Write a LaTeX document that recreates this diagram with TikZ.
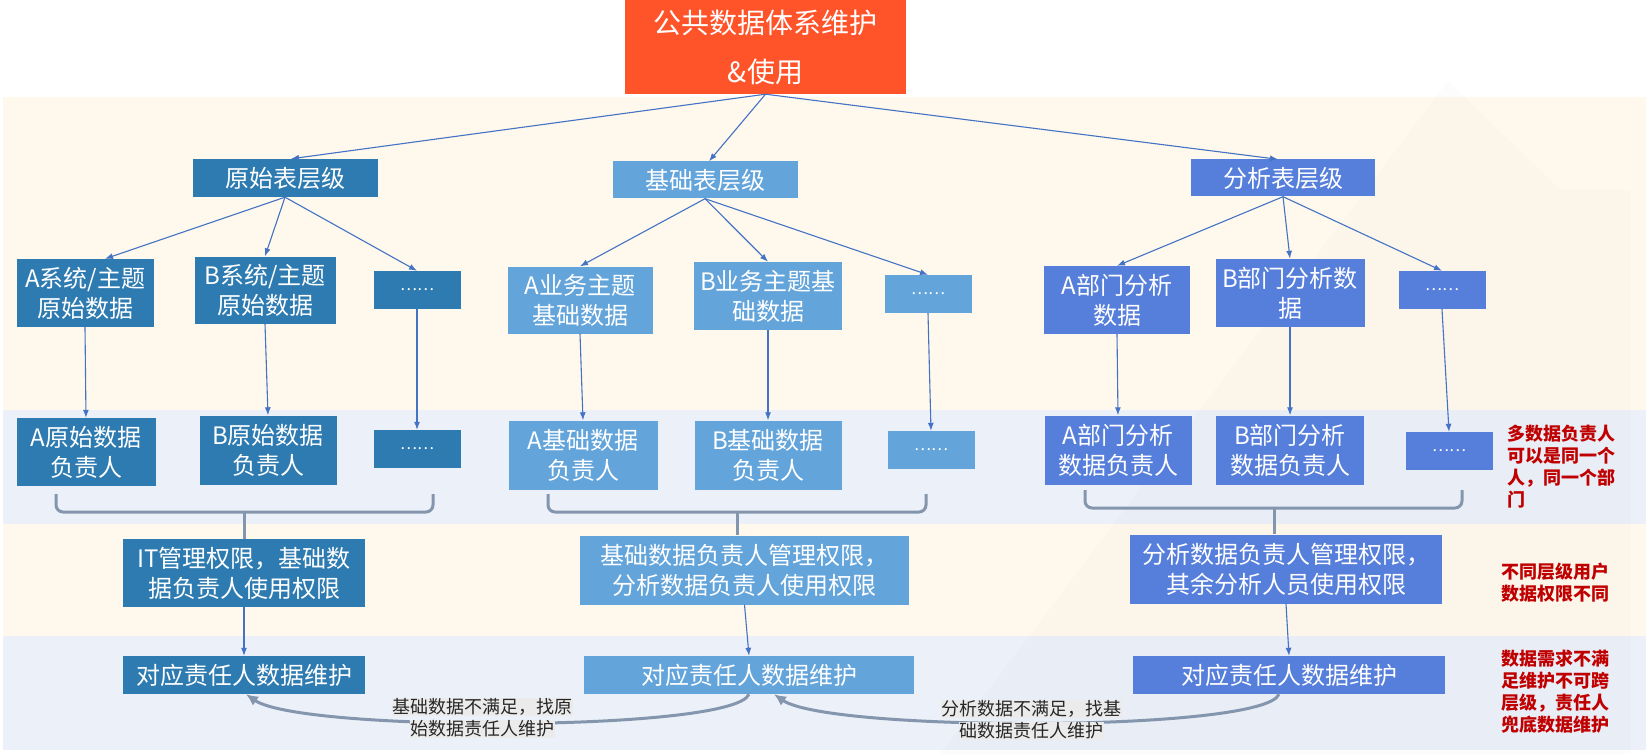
\documentclass[tikz,border=0pt]{standalone}
\usepackage{fontspec}
\setmainfont{Noto Sans CJK SC}
\usetikzlibrary{arrows.meta}

\definecolor{topred}{HTML}{FF5329}
\definecolor{rawblue}{HTML}{2E7BB1}
\definecolor{baseblue}{HTML}{63A4DB}
\definecolor{anablue}{HTML}{567EDB}
\definecolor{cream}{HTML}{FEF9EC}
\definecolor{paleblue}{HTML}{ECF0F8}
\definecolor{linkblue}{HTML}{4472C4}
\definecolor{bracegray}{HTML}{8496AE}
\definecolor{notered}{HTML}{C00000}

\begin{document}
\begin{tikzpicture}[x=1pt,y=-1pt,
  box/.style={fill=#1, text=white, inner sep=0pt, align=center, font=\fontsize{24}{30}\selectfont},
  dots/.style={box=#1, minimum width=87pt, minimum height=38pt, font=\fontsize{16}{20}\selectfont},
  link/.style={linkblue, line width=1.1pt, -{Latex[length=8pt,width=6pt]}},
  brace/.style={bracegray, line width=3pt, rounded corners=7pt},
  back/.style={bracegray, line width=3pt, -{Latex[length=12pt,width=11pt]}},
  note/.style={notered, anchor=west, inner sep=0pt, align=left, font=\bfseries\fontsize{18}{22}\selectfont},
  hint/.style={fill=black!8, text=black!85, inner sep=0.5pt, font=\fontsize{18}{22}\selectfont}]

\useasboundingbox (0,0) rectangle (1646,754);

% bands
\fill[cream] (3,97) rectangle (1646,410);
\fill[paleblue] (3,410) rectangle (1646,524);
\fill[cream] (3,524) rectangle (1646,636);
\fill[paleblue] (3,636) rectangle (1646,750);
\fill[black, opacity=0.012] (1448,81) -- (1561,190) -- (1631,190) -- (1631,754) -- (940,754) -- cycle;

% top
\node[box=topred, minimum width=281pt, minimum height=94pt, font=\fontsize{28}{49}\selectfont] (top) at (765.5,47) {公共数据体系维护\\\&使用};

% table levels
\node[box=rawblue, minimum width=185pt, minimum height=38pt] (raw) at (285,178) {原始表层级};
\node[box=baseblue, minimum width=185pt, minimum height=37pt] (base) at (705,180) {基础表层级};
\node[box=anablue, minimum width=184pt, minimum height=37pt] (ana) at (1283,178) {分析表层级};

% data
\node[box=rawblue, minimum width=137pt, minimum height=68pt] (asys) at (85,293) {A系统/主题\\原始数据};
\node[box=rawblue, minimum width=141pt, minimum height=67pt] (bsys) at (265,290) {B系统/主题\\原始数据};
\node[dots=rawblue] (rawdots) at (417,290) {……};
\node[box=baseblue, minimum width=145pt, minimum height=67pt] (abiz) at (580,300) {A业务主题\\基础数据};
\node[box=baseblue, minimum width=148pt, minimum height=68pt] (bbiz) at (768,296) {B业务主题基\\础数据};
\node[dots=baseblue] (basedots) at (928,294) {……};
\node[box=anablue, minimum width=146pt, minimum height=68pt] (adep) at (1117,300) {A部门分析\\数据};
\node[box=anablue, minimum width=149pt, minimum height=68pt] (bdep) at (1290,293) {B部门分析数\\据};
\node[dots=anablue] (anadots) at (1442,290) {……};

% owners
\node[box=rawblue, minimum width=139pt, minimum height=68pt] (araw) at (86,452) {A原始数据\\负责人};
\node[box=rawblue, minimum width=137pt, minimum height=69pt] (braw) at (268,450) {B原始数据\\负责人};
\node[dots=rawblue] (rawdots2) at (417,449) {……};
\node[box=baseblue, minimum width=149pt, minimum height=69pt] (abase) at (583,455) {A基础数据\\负责人};
\node[box=baseblue, minimum width=147pt, minimum height=69pt] (bbase) at (768,455) {B基础数据\\负责人};
\node[dots=baseblue] (basedots2) at (931,450) {……};
\node[box=anablue, minimum width=147pt, minimum height=69pt] (aana) at (1118,450) {A部门分析\\数据负责人};
\node[box=anablue, minimum width=148pt, minimum height=69pt] (bana) at (1290,450) {B部门分析\\数据负责人};
\node[dots=anablue] (anadots2) at (1449,451) {……};

% rights
\node[box=rawblue, minimum width=242pt, minimum height=68pt] (p1) at (244,573) {IT管理权限，基础数\\据负责人使用权限};
\node[box=baseblue, minimum width=329pt, minimum height=69pt] (p2) at (744.5,570) {基础数据负责人管理权限，\\分析数据负责人使用权限};
\node[box=anablue, minimum width=312pt, minimum height=69pt] (p3) at (1286,569) {分析数据负责人管理权限，\\其余分析人员使用权限};

% maintenance
\node[box=rawblue, minimum width=242pt, minimum height=38pt] (m1) at (244,675) {对应责任人数据维护};
\node[box=baseblue, minimum width=330pt, minimum height=38pt] (m2) at (749,675) {对应责任人数据维护};
\node[box=anablue, minimum width=312pt, minimum height=38pt] (m3) at (1289,675) {对应责任人数据维护};

% arrows
\draw[link] (top.south) -- ([xshift=6pt]raw.north);
\draw[link] (top.south) -- ([xshift=4pt]base.north);
\draw[link] (top.south) -- ([xshift=-5pt]ana.north);
\draw[link] (raw.south) -- ([xshift=20pt]asys.north);
\foreach \a/\b in {raw/bsys, raw/rawdots, base/abiz, base/bbiz, base/basedots, ana/adep, ana/bdep, ana/anadots}
  \draw[link] (\a.south) -- (\b.north);
\foreach \a/\b in {asys/araw, bsys/braw, rawdots/rawdots2, abiz/abase, bbiz/bbase, basedots/basedots2, adep/aana, bdep/bana, anadots/anadots2}
  \draw[link] (\a.south) -- (\b.north);
\foreach \a/\b in {p1/m1, p2/m2, p3/m3}
  \draw[link] (\a.south) -- (\b.north);

% braces
\coordinate (tip1) at (244,512);
\coordinate (tip2) at (737,512);
\coordinate (tip3) at (1274,508);
\draw[brace] (56,494) |- (433,512) -- (433,494);
\draw[brace] (548,494) |- (926,512) -- (926,494);
\draw[brace] (1085,490) |- (1462,508) -- (1462,490);
\draw[brace] (tip1) -- (tip1 |- p1.north);
\draw[brace] (tip2) -- (tip2 |- p2.north);
\draw[brace] (tip3) -- (tip3 |- p3.north);

% going back a level
\draw[back] (m2.south) .. controls +(-15,38) and +(55,38) .. ([xshift=2pt]m1.south);
\draw[back] ([xshift=-10pt]m3.south) .. controls +(-15,38) and +(55,38) .. ([xshift=25pt]m2.south);
\node[hint] (hint1a) at (482,707) {基础数据不满足，找原};
\node[hint] (hint1b) at (482,729) {始数据责任人维护};
\node[hint] (hint2a) at (1031,709) {分析数据不满足，找基};
\node[hint] (hint2b) at (1031,731) {础数据责任人维护};

% notes
\node[note] (note1) at (1507,467) {多数据负责人\\可以是同一个\\人，同一个部\\门};
\node[note] (note2) at (1501,583) {不同层级用户\\数据权限不同};
\node[note] (note3) at (1501,692) {数据需求不满\\足维护不可跨\\层级，责任人\\兜底数据维护};
\end{tikzpicture}
\end{document}
